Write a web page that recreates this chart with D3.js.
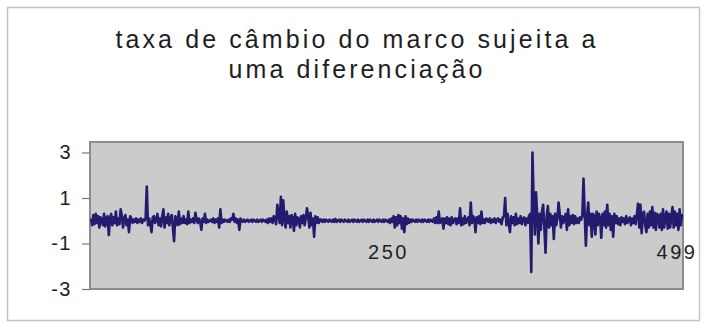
<!DOCTYPE html>
<html>
<head>
<meta charset="utf-8">
<script src="https://cdn.jsdelivr.net/npm/d3@7"></script>
<style>
  body { margin: 0; background: #fff; }
  text { font-family: "Liberation Sans", Arial, sans-serif; fill: #1e1e1e; }
</style>
</head>
<body>
<svg id="chart"></svg>
<script>
// chart texts
var titleLines = ["taxa de câmbio do marco sujeita a", "uma diferenciação"];
var yTicks = [-3, -1, 1, 3];
var xTickLabels = [250, 499];

var values = [
  0.1, -0.2, 0.25, -0.15, 0.3, -0.1, 0.2, -0.3, 0.15, 0.05, -0.2, 0.3, -0.25, 0.1, 0.2, -0.63, 0.1, 0.3, -0.2, 0.15,
  -0.1, 0.4, -0.2, 0.1, -0.15, 0.5, 0.2, -0.3, 0.1, 0.25, -0.2, 0.05, -0.5, 0.2, 0.1, -0.1, 0.05, -0.05, 0.1, -0.1,
  0.05, -0.05, 0.1, -0.1, 0.05, 0, 0.1, 1.5, -0.2, 0.1, -0.15, -0.5, 0.15, 0.2, -0.1, 0.05, 0.3, -0.2, 0.1, -0.25,
  0.2, 0.5, -0.3, 0.15, -0.1, 0.3, -0.2, 0.1, 0.25, -0.3, -0.9, 0.2, 0.1, -0.2, 0.4, -0.15, 0.1, -0.1, 0.2, -0.1,
  0.05, -0.15, 0.4, -0.1, 0.05, -0.05, 0.1, -0.1, 0.35, 0.05, -0.1, 0.1, -0.05, -0.4, 0.1, -0.05, 0.3, -0.1, 0.05, -0.05,
  0, 0.05, -0.05, 0.1, -0.1, 0.05, -0.05, 0.1, -0.3, 0.5, -0.1, 0.05, -0.05, 0.05, 0, -0.05, 0.05, -0.05, 0.1, 0.05,
  0.3, -0.05, 0.1, -0.1, 0.05, -0.4, 0.1, 0, -0.05, 0.05, -0.05, 0, 0.05, -0.05, 0, 0.05, -0.05, 0.05, 0, -0.05,
  0.05, -0.05, 0, 0.05, -0.05, 0.05, 0, -0.05, 0.05, -0.1, 0.1, -0.05, 0.1, -0.1, 0.2, 0.1, -0.15, 0.7, 0.3, -0.1,
  1.05, -0.2, 0.9, 0.1, -0.3, 0.4, -0.1, 0.2, -0.3, 0.25, 0.1, -0.45, 0.3, -0.2, 0.15, 0.1, -0.3, 0.2, -0.1, 0.25,
  -0.2, 0.1, 0.55, 0.2, -0.3, 0.35, -0.2, 0.1, -0.7, 0.2, -0.1, 0.15, -0.1, 0.05, 0.05, -0.05, 0.05, -0.05, 0.05, 0,
  -0.05, 0.05, 0, -0.05, 0.05, -0.05, 0.08, -0.05, 0, 0.05, -0.05, 0.05, 0, -0.05, 0.05, 0, -0.05, 0.05, -0.05, 0,
  0.05, -0.05, 0.05, 0, -0.05, 0.05, -0.05, 0, 0.05, -0.05, 0.05, 0, -0.05, 0.05, -0.05, 0.05, 0, -0.05, 0.05, -0.05,
  0, 0.05, -0.05, 0.05, 0, -0.05, 0.05, -0.05, 0.05, 0, -0.05, 0.05, -0.1, 0.1, -0.05, 0.2, -0.3, 0.15, -0.2, 0.25,
  -0.1, 0.2, -0.35, 0.1, -0.5, 0.2, -0.15, 0.1, -0.1, 0.05, -0.05, 0.05, 0, -0.05, 0.05, -0.05, 0.05, 0, -0.05, 0.05,
  -0.05, 0.05, 0, -0.05, 0.05, -0.05, 0.05, 0, -0.05, 0.1, -0.1, 0.15, -0.1, 0.4, -0.1, 0.05, 0.1, -0.35, 0.1, -0.1,
  0.15, -0.15, 0.1, -0.2, 0.15, -0.1, 0.05, 0.1, -0.15, 0.1, -0.1, 0.55, -0.2, 0.1, -0.15, 0.2, -0.1, 0.05, 0.15, -0.2,
  0.8, -0.1, 0.2, 0.1, -0.5, 0.15, -0.1, 0.2, -0.15, 0.4, -0.1, 0.05, -0.1, 0.1, 0.05, -0.05, 0.1, -0.1, 0.05, -0.05,
  0.1, -0.1, 0.05, 0.1, -0.05, 0.05, -0.15, 0.15, 0.2, 1.0, -0.2, 0.3, -0.1, -0.5, 0.2, -0.1, 0.15, -0.2, 0.3, -0.15,
  0.1, -0.1, 0.2, -0.15, 0.1, 0.15, -0.2, 0.1, -0.1, 0.2, 0.3, -2.25, 3.0, 0.9, -0.6, 1.25, 0.2, -1.0, 0.3, -0.4,
  0.4, 0.7, -0.3, -1.4, 0.2, 0.65, -0.3, 0.3, -0.2, 0.2, -0.8, 0.3, -0.2, 0.1, 0.8, 0.3, -0.3, 0.2, -0.1, 0.15,
  0.3, -0.4, 0.5, -0.2, 0.2, -0.1, 0.25, -0.15, 0.2, -0.1, 0.1, -0.1, 0.15, 0.05, 0.2, 1.85, 0.3, -1.1, 0.2, 0.8,
  -0.2, 0.3, -0.7, 0.3, 0.2, -0.6, 0.4, -0.2, 0.3, 0.1, -0.75, 0.3, -0.2, 0.4, -0.3, 0.7, -0.2, 0.3, -0.4, 0.2,
  -0.7, 0.3, -0.1, 0.2, -0.15, 0.1, -0.2, 0.15, -0.05, 0.1, -0.15, 0.2, -0.1, 0.05, 0.15, -0.2, 0.1, -0.1, 0.2, -0.15,
  0.3, 0.75, -0.3, 0.7, -0.55, 0.3, 0.4, -0.2, -0.5, 0.3, -0.3, 0.4, -0.2, 0.6, -0.3, 0.35, -0.4, 0.3, 0.2, -0.3,
  0.3, -0.4, 0.5, -0.3, 0.2, 0.4, -0.35, 0.3, -0.3, 0.2, 0.6, -0.3, 0.4, -0.2, 0.3, -0.4, 0.5, -0.2, 0.3
];

var W = 703, H = 324;
var plot = {left: 90, right: 683, top: 142, bottom: 289};

var svg = d3.select("#chart")
    .attr("width", W)
    .attr("height", H);

// outer chart frame
svg.append("rect")
    .attr("x", 7.5).attr("y", 7.5)
    .attr("width", 692).attr("height", 313)
    .attr("fill", "#fff")
    .attr("stroke", "#c4c4c4")
    .attr("stroke-width", 1.5);

// title (the printed chart is stretched sideways, hence the letter spacing)
svg.append("text")
    .attr("text-anchor", "middle")
    .style("font-size", "25px")
    .style("letter-spacing", "3.1px")
    .selectAll("tspan")
    .data(titleLines)
    .join("tspan")
        .attr("x", 357)
        .attr("y", function(d, i) { return 48 + i * 30; })
        .text(function(d) { return d; });

// scales
var x = d3.scaleLinear()
    .domain([1, values.length])
    .range([plot.left + 1, plot.right - 1]);

var y = d3.scaleLinear()
    .domain([-3, 3.46])
    .range([plot.bottom, plot.top]);

// plot area
svg.append("rect")
    .attr("x", plot.left).attr("y", plot.top)
    .attr("width", plot.right - plot.left)
    .attr("height", plot.bottom - plot.top)
    .attr("fill", "#cbcbcb")
    .attr("stroke", "#8c8c8c")
    .attr("stroke-width", 2);

// y axis
var yAxis = svg.append("g")
    .attr("transform", "translate(" + plot.left + ",0)")
    .call(d3.axisLeft(y).tickValues(yTicks).tickSize(8).tickPadding(10)
        .tickFormat(function(d) { return d < 0 ? "-" + Math.abs(d) : d; }));
yAxis.select(".domain").remove();
yAxis.selectAll(".tick line").attr("stroke", "#777").attr("stroke-width", 1.2);
yAxis.selectAll(".tick text")
    .style("font-size", "20px")
    .style("letter-spacing", "1.5px")
    .style("font-family", "'Liberation Sans', Arial, sans-serif")
    .attr("fill", "#1e1e1e");

// series
var line = d3.line()
    .x(function(d, i) { return x(i + 1); })
    .y(function(d) { return y(d); });

svg.append("path")
    .datum(values)
    .attr("fill", "none")
    .attr("stroke", "#231c6e")
    .attr("stroke-width", 2.6)
    .attr("stroke-linejoin", "round")
    .attr("d", line);

// category labels, drawn below the zero line; the last one is pulled in to stay inside the frame
svg.selectAll(".xlab")
    .data(xTickLabels)
    .join("text")
        .attr("class", "xlab")
        .attr("x", function(d, i) { return x(d) + (i === xTickLabels.length - 1 ? -5 : 2); })
        .attr("y", y(0) + 38)
        .attr("text-anchor", "middle")
        .style("font-size", "20px")
        .style("letter-spacing", "2.5px")
        .text(function(d) { return d; });
</script>
</body>
</html>
